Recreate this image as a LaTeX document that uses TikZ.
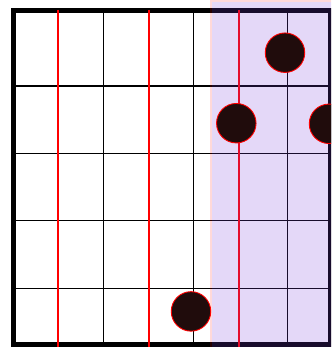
\documentclass[tikz,border=0pt]{standalone}
\begin{document}
\begin{tikzpicture}[x=1pt,y=-1pt,
  gridline/.style={line width=1.3pt, black},
  redline/.style={line width=2pt, red},
  frameline/.style={line width=5.5pt, black},
  veilfill/.style={fill=veil, opacity=0.2},
  veiledge/.style={draw=red, opacity=0.15, line width=2.5pt},
  dot/.style={circle, fill=dotfill, draw=red, line width=0.9pt, minimum size=39.5pt, inner sep=0pt}]
\definecolor{dotfill}{RGB}{32,12,12}
\definecolor{veil}{RGB}{120,60,220}
\useasboundingbox (0,0) rectangle (331,347);
\clip (0,0) rectangle (331,347);
\draw[frameline] (13.5,10.3) rectangle (330.5,345.2);
\foreach \y in {86,153.5,220.7,288.2} \draw[gridline] (13.5,\y) -- (328,\y);
\foreach \x in {103.7,193.7,287.3} \draw[gridline] (\x,10.3) -- (\x,345);
\foreach \x in {58.3,148.7,239} \draw[redline] (\x,10) -- (\x,350);
\fill[veilfill] (212.2,2.2) rectangle (345,360);
\coordinate (vb) at (211,360);
\coordinate (vc) at (211,1);
\coordinate (vr) at (345,1);
\draw[veiledge] (vb) -- (vc) -- (vr);
\node[dot] (c1) at (285,52.7) {};
\node[dot] (c2) at (236.3,123.2) {};
\node[dot] (c3) at (329,123.8) {};
\node[dot] (c4) at (191,311.4) {};
\end{tikzpicture}
\end{document}
